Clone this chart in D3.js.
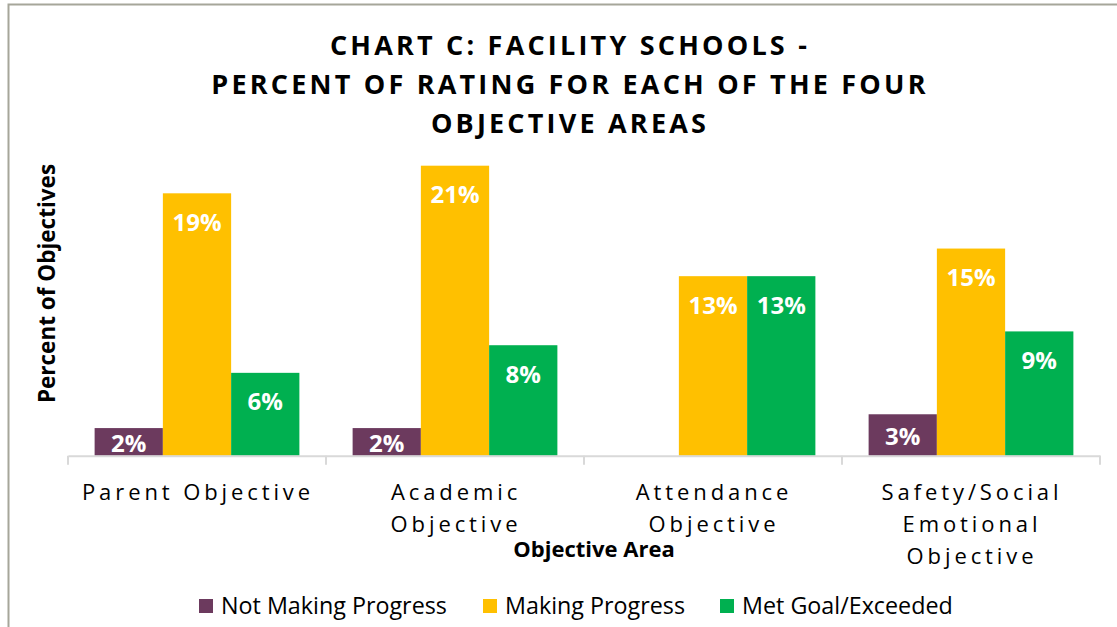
<!DOCTYPE html>
<html>
<head>
<meta charset="utf-8">
<script src="https://cdn.jsdelivr.net/npm/d3@7"></script>
<style>
  body { margin: 0; background: #fff; }
  svg { display: block; }
</style>
</head>
<body>
<svg id="chart" width="1117" height="627"></svg>
<script>
// chart data
var categories = [
  ["Parent Objective"],
  ["Academic", "Objective"],
  ["Attendance", "Objective"],
  ["Safety/Social", "Emotional", "Objective"]
];
var seriesNames = ["Not Making Progress", "Making Progress", "Met Goal/Exceeded"];
var seriesColors = ["#6C3A5E", "#FFC000", "#00B050"];
var notMaking = [0.02, 0.02, null, 0.03];
var making = [0.19, 0.21, 0.13, 0.15];
var metGoal = [0.06, 0.08, 0.13, 0.09];
var titleLines = ["CHART C: FACILITY SCHOOLS -", "PERCENT OF RATING FOR EACH OF THE FOUR", "OBJECTIVE AREAS"];

var series = [notMaking, making, metGoal];
var font = '"Open Sans", "Liberation Sans", sans-serif';

var svg = d3.select('#chart');

// frame (only top and left edges show in the picture)
svg.append('path')
  .attr('d', 'M8.5,627V4.5H1117')
  .attr('fill', 'none')
  .attr('stroke', '#a6a69a')
  .attr('stroke-width', 2);

var left = 68, right = 1100, base = 455.7;

var x = d3.scaleBand()
  .domain(d3.range(categories.length))
  .range([left, right]);

// three bars per category, a gap on each side
var xs = d3.scaleBand()
  .domain(d3.range(series.length))
  .range([0, x.bandwidth()])
  .paddingInner(0)
  .paddingOuter(0.39);

var y = d3.scaleLinear()
  .domain([0, 0.22])
  .range([base, base - 0.22 * 1381]);

// title
svg.append('g').selectAll('text')
  .data(titleLines)
  .enter().append('text')
    .attr('x', 570)
    .attr('y', function(d, i) { return 55 + i * 39; })
    .attr('text-anchor', 'middle')
    .style('font-family', font)
    .style('font-weight', 'bold')
    .style('font-size', '27px')
    .style('letter-spacing', '3.2px')
    .attr('fill', '#000')
    .text(function(d) { return d; });

// bars
var groups = svg.append('g').selectAll('g')
  .data(series)
  .enter().append('g')
    .attr('fill', function(d, i) { return seriesColors[i]; });

groups.each(function(vals, si) {
  var g = d3.select(this);
  var pts = vals.map(function(v, ci) { return {v: v, ci: ci}; })
    .filter(function(d) { return d.v != null; });

  g.selectAll('rect')
    .data(pts)
    .enter().append('rect')
      .attr('x', function(d) { return x(d.ci) + xs(si); })
      .attr('width', xs.bandwidth())
      .attr('y', function(d) { return y(d.v); })
      .attr('height', function(d) { return y(0) - y(d.v); });

  // inside-end labels, pulled to the middle on short bars
  g.selectAll('text')
    .data(pts)
    .enter().append('text')
      .attr('x', function(d) { return x(d.ci) + xs(si) + xs.bandwidth() / 2; })
      .attr('y', function(d) {
        var top = y(d.v), mid = (top + y(0)) / 2;
        return Math.min(top + 29, mid + 1.5) + 8.5;
      })
      .attr('text-anchor', 'middle')
      .attr('fill', '#fff')
      .style('font-family', font)
      .style('font-weight', 'bold')
      .style('font-size', '24px')
      .text(function(d) { return Math.round(d.v * 100) + '%'; });
});

// x axis
var axis = svg.append('g')
  .attr('transform', 'translate(0,' + base + ')')
  .call(d3.axisBottom(x).tickValues([]).tickSizeOuter(0));
axis.select('.domain').attr('stroke', '#d9d9d9').attr('stroke-width', 2);

axis.selectAll('line.sep')
  .data(d3.range(categories.length + 1))
  .enter().append('line')
    .attr('class', 'sep')
    .attr('x1', function(i) { return left + i * x.step(); })
    .attr('x2', function(i) { return left + i * x.step(); })
    .attr('y1', 0)
    .attr('y2', 9)
    .attr('stroke', '#d9d9d9')
    .attr('stroke-width', 2);

var catLabels = svg.append('g').selectAll('text')
  .data(categories)
  .enter().append('text')
    .attr('text-anchor', 'middle')
    .style('font-family', font)
    .style('font-size', '22px')
    .style('letter-spacing', '3.9px')
    .attr('fill', '#000');

catLabels.selectAll('tspan')
  .data(function(d, i) { return d.map(function(t) { return {t: t, i: i}; }); })
  .enter().append('tspan')
    .attr('x', function(d) { return x(d.i) + x.bandwidth() / 2 + 1; })
    .attr('y', function(d, j) { return 499.5 + j * 32; })
    .text(function(d) { return d.t; });

// axis titles
svg.append('text')
  .attr('x', 594)
  .attr('y', 557)
  .attr('text-anchor', 'middle')
  .style('font-family', font)
  .style('font-weight', 'bold')
  .style('font-size', '22px')
  .text('Objective Area');

svg.append('text')
  .attr('transform', 'translate(55,283.5) rotate(-90)')
  .attr('text-anchor', 'middle')
  .style('font-family', font)
  .style('font-weight', 'bold')
  .style('font-size', '22.5px')
  .text('Percent of Objectives');

// legend
var legendX = [199, 483, 720];
var legend = svg.append('g').selectAll('g')
  .data(seriesNames)
  .enter().append('g')
    .attr('transform', function(d, i) { return 'translate(' + legendX[i] + ',599)'; });

legend.append('rect')
  .attr('width', 14)
  .attr('height', 14)
  .attr('fill', function(d, i) { return seriesColors[i]; });

legend.append('text')
  .attr('x', 22)
  .attr('y', 14.5)
  .style('font-family', font)
  .style('font-size', '23.3px')
  .attr('fill', '#000')
  .text(function(d) { return d; });
</script>
</body>
</html>
